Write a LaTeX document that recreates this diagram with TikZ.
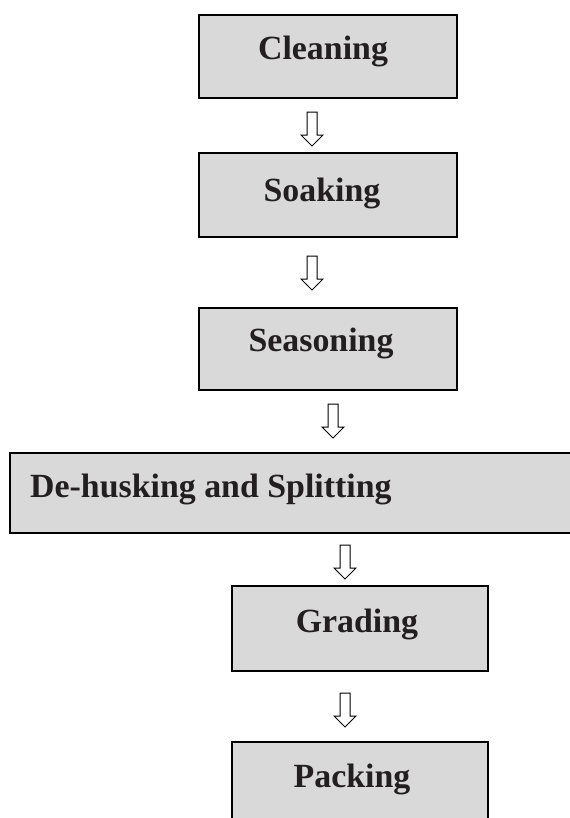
\documentclass[tikz,border=0pt]{standalone}
\usepackage{fontspec}
\setmainfont{Liberation Serif}
\definecolor{boxfill}{HTML}{D9D9D9}
\definecolor{ink}{HTML}{231F20}
\tikzset{
  x=1bp, y=-1bp,
  stepbox/.style={draw=black, line width=1.6bp, fill=boxfill, rectangle, inner sep=0pt},
  steptext/.style={text=ink, font=\bfseries\fontsize{34}{38}\selectfont, inner sep=0pt},
  hollowdown/.pic={
    \draw[line width=1.0bp, fill=white, line join=miter]
      (-5,0) -- (5,0) -- (5,23) -- (11,23) -- (0,34) -- (-11,23) -- (-5,23) -- cycle;
  }
}
\begin{document}
\begin{tikzpicture}
\useasboundingbox (0,0) rectangle (570,818);
% process boxes
\begin{scope}
\clip (0,0) rectangle (570,818);
\node[stepbox, minimum width=258bp, minimum height=83bp, anchor=north west] (clean) at (198,14) {};
\node[stepbox, minimum width=258bp, minimum height=84bp, anchor=north west] (soak) at (198,152) {};
\node[stepbox, minimum width=258bp, minimum height=82bp, anchor=north west] (season) at (198,307) {};
\node[stepbox, minimum width=575bp, minimum height=80bp, anchor=north west] (dehusk) at (9,452) {};
\node[stepbox, minimum width=256bp, minimum height=85bp, anchor=north west] (grade) at (231,585) {};
\node[stepbox, minimum width=256bp, minimum height=90bp, anchor=north west] (pack) at (231,741) {};
\end{scope}
% labels
\node[steptext] (tclean) at (323,51) {Cleaning};
\node[steptext] (tsoak) at (322,193) {Soaking};
\node[steptext] (tseason) at (321,343) {Seasoning};
\node[steptext, anchor=west] (tdehusk) at (30,489) {De-husking and Splitting};
\node[steptext] (tgrade) at (357,624) {Grading};
\node[steptext] (tpack) at (352,779) {Packing};
% flow arrows between the steps
\coordinate (a1) at (312,112);
\coordinate (a2) at (312,256);
\coordinate (a3) at (333,404);
\coordinate (a4) at (345,545);
\coordinate (a5) at (345,693);
\pic at (a1) {hollowdown};
\pic at (a2) {hollowdown};
\pic at (a3) {hollowdown};
\pic at (a4) {hollowdown};
\pic at (a5) {hollowdown};
\end{tikzpicture}
\end{document}
